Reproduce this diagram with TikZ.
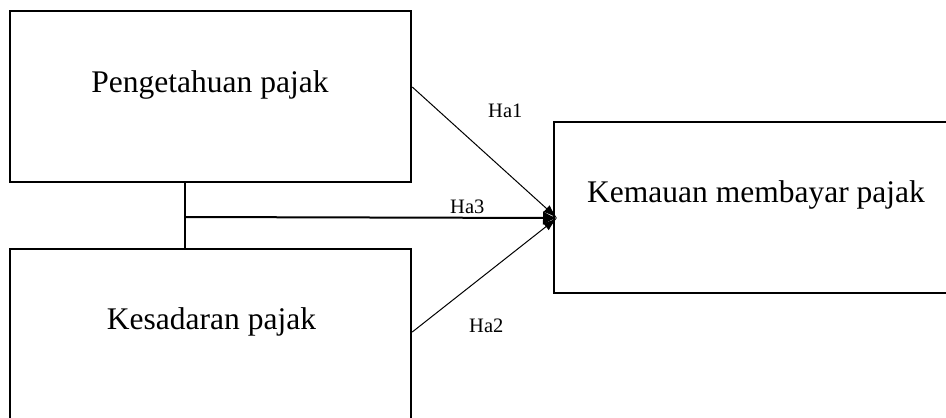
\documentclass[tikz,border=0pt]{standalone}
\usepackage{fontspec}
\setmainfont{Liberation Serif}
\usetikzlibrary{arrows.meta}
\begin{document}
\begin{tikzpicture}[x=1pt,y=-1pt,
  box/.style={draw,line width=2.5pt,rectangle,inner sep=0pt},
  main/.style={inner sep=0pt,anchor=base,font=\fontsize{31.5}{36}\selectfont},
  lbl/.style={inner sep=0pt,anchor=base west,font=\fontsize{20.5}{24}\selectfont},
  thin/.style={line width=1pt,-{Latex[length=14pt,width=9pt]}},
  thick/.style={line width=2pt,-{Latex[length=14pt,width=14pt]}}]
\useasboundingbox (0,0) rectangle (946,418);
\clip (0,0) rectangle (946,418);
% boxes
\node[box,minimum width=401pt,minimum height=171pt] (pk) at (210.5,96.5) {};
\node[box,minimum width=401pt,minimum height=181pt] (ks) at (210.5,339.5) {};
\node[box,minimum width=406pt,minimum height=171pt] (km) at (757,207.5) {};
% box texts
\node[main] (tpk) at (210,92) {Pengetahuan pajak};
\node[main] (tks) at (211.5,329) {Kesadaran pajak};
\node[main] (tkm) at (756,202) {Kemauan membayar pajak};
% connectors
\coordinate (tip) at (557,218);
\coordinate (j) at (185,217);
\draw[line width=2pt] (pk.south -| j) -- (ks.north -| j);
\draw[thick] (j) -- (tip);
\draw[thin] ([yshift=9.5pt]pk.east) -- (tip);
\draw[thin] ([yshift=7.5pt]ks.east) -- (tip);
% labels
\node[lbl] (h1) at (488,117) {Ha1};
\node[lbl] (h3) at (450,213) {Ha3};
\node[lbl] (h2) at (469,332) {Ha2};
\end{tikzpicture}
\end{document}
